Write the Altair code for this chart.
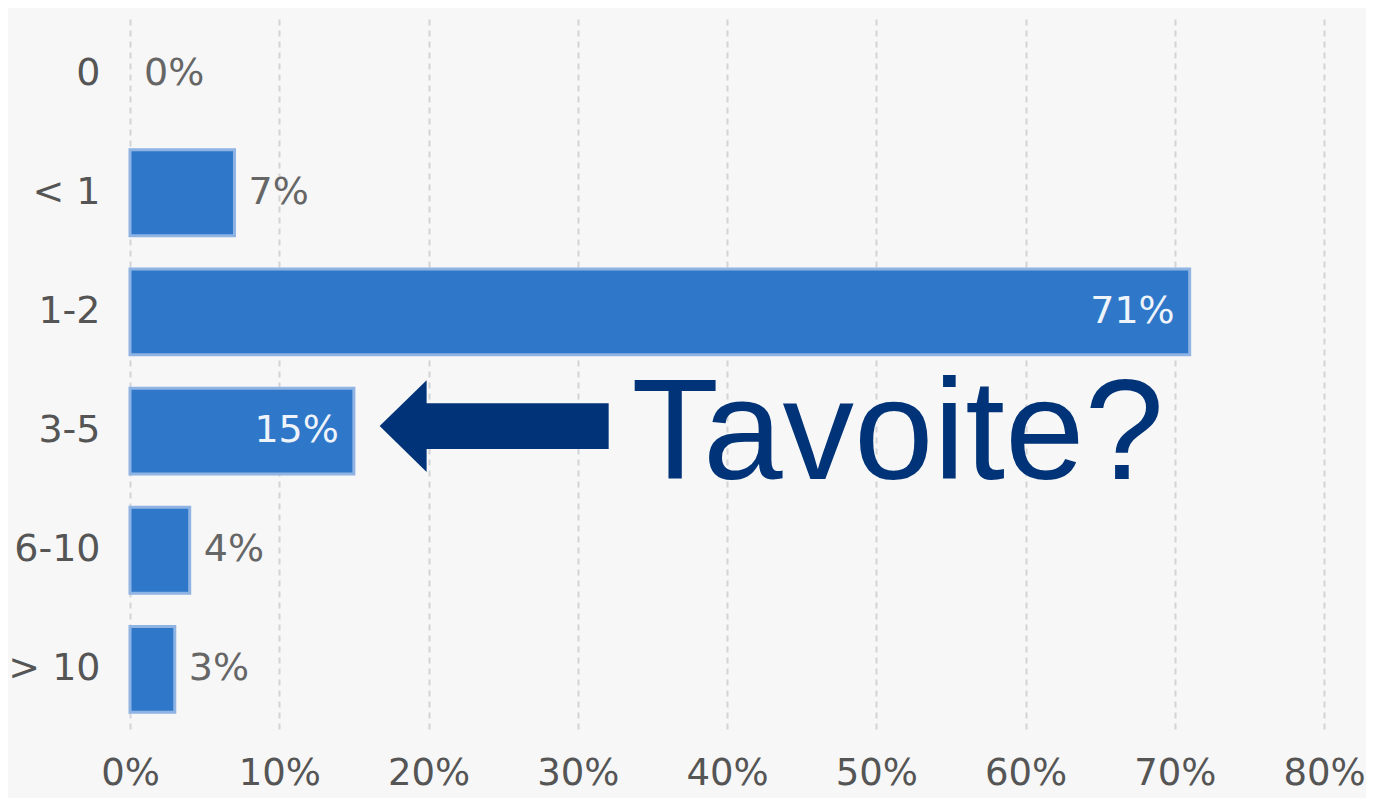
import altair as alt
import pandas as pd

categories = ["0", "< 1", "1-2", "3-5", "6-10", "> 10"]
values = [0, 7, 71, 15, 4, 3]
inside = [False, False, True, True, False, False]
x_ticks = [0, 10, 20, 30, 40, 50, 60, 70, 80]

annotation_text = "Tavoite?"
annotation_category = "3-5"
arrow_center = 24.4
text_left = 33.6

df = pd.DataFrame({
    "cat": categories,
    "val": values,
    "inside": inside,
    "label": [f"{v}%" for v in values],
})

BG = "#f7f7f7"
BAR = "#2f78c9"
NAVY = "#003378"
FONT = "DejaVu Sans"

y_enc = alt.Y("cat:N", sort=categories, title=None,
              scale=alt.Scale(paddingInner=0.28, paddingOuter=0.14),
              axis=alt.Axis(labelFont=FONT, labelFontSize=38, labelColor="#555555",
                            labelPadding=30, ticks=False, domain=False, grid=False))
x_enc = alt.X("val:Q", title=None,
              scale=alt.Scale(domain=[0, 80], nice=False),
              axis=alt.Axis(values=x_ticks, labelExpr="datum.value + '%'",
                            labelFont=FONT, labelFontSize=37, labelColor="#555555",
                            labelPadding=26, labelFlush=False, labelOverlap=False,
                            labelBound=False,
                            ticks=False, domain=False,
                            grid=True, gridColor="#d2d4d8", gridWidth=2,
                            gridDash=[6, 5]))

bars = alt.Chart(df).transform_filter("datum.val > 0").mark_bar(
    color=BAR, stroke="#8fb3e3", strokeWidth=3).encode(y=y_enc, x=x_enc)

outside_text = alt.Chart(df).transform_filter("!datum.inside").mark_text(
    align="left", baseline="middle", dx=14, font=FONT, fontSize=38, color="#666666"
).encode(y=alt.Y("cat:N", sort=categories), x="val:Q", text="label:N")

inside_text = alt.Chart(df).transform_filter("datum.inside").mark_text(
    align="right", baseline="middle", dx=-15, font=FONT, fontSize=38, color="#ffffff",
    opacity=0.92
).encode(y=alt.Y("cat:N", sort=categories), x="val:Q", text="label:N")

ann_df = pd.DataFrame({"cat": [annotation_category], "ax": [arrow_center],
                       "tx": [text_left], "txt": [annotation_text]})

arrow_path = "M -1 0 L -0.59 -0.40 L -0.59 -0.2 L 1 -0.2 L 1 0.2 L -0.59 0.2 L -0.59 0.40 Z"
arrow = alt.Chart(ann_df).mark_point(
    shape=arrow_path, size=229 * 229, filled=True, fill=NAVY, opacity=1,
    strokeWidth=0, yOffset=-5
).encode(y=alt.Y("cat:N", sort=categories), x="ax:Q")

ann_text = alt.Chart(ann_df).mark_text(
    align="left", baseline="alphabetic", dy=48, font="Liberation Sans",
    fontSize=143, color=NAVY
).encode(y=alt.Y("cat:N", sort=categories), x="tx:Q", text="txt:N")

chart = alt.layer(bars, outside_text, inside_text, arrow, ann_text).properties(
    width=1194, height=715,
    autosize=alt.AutoSizeParams(type="none"),
    padding={"left": 122, "top": 6, "right": 42, "bottom": 69},
    background=BG,
).configure_view(stroke=None, fill=BG)

chart.save("out.html", embed_options={"renderer": "svg", "actions": False})
